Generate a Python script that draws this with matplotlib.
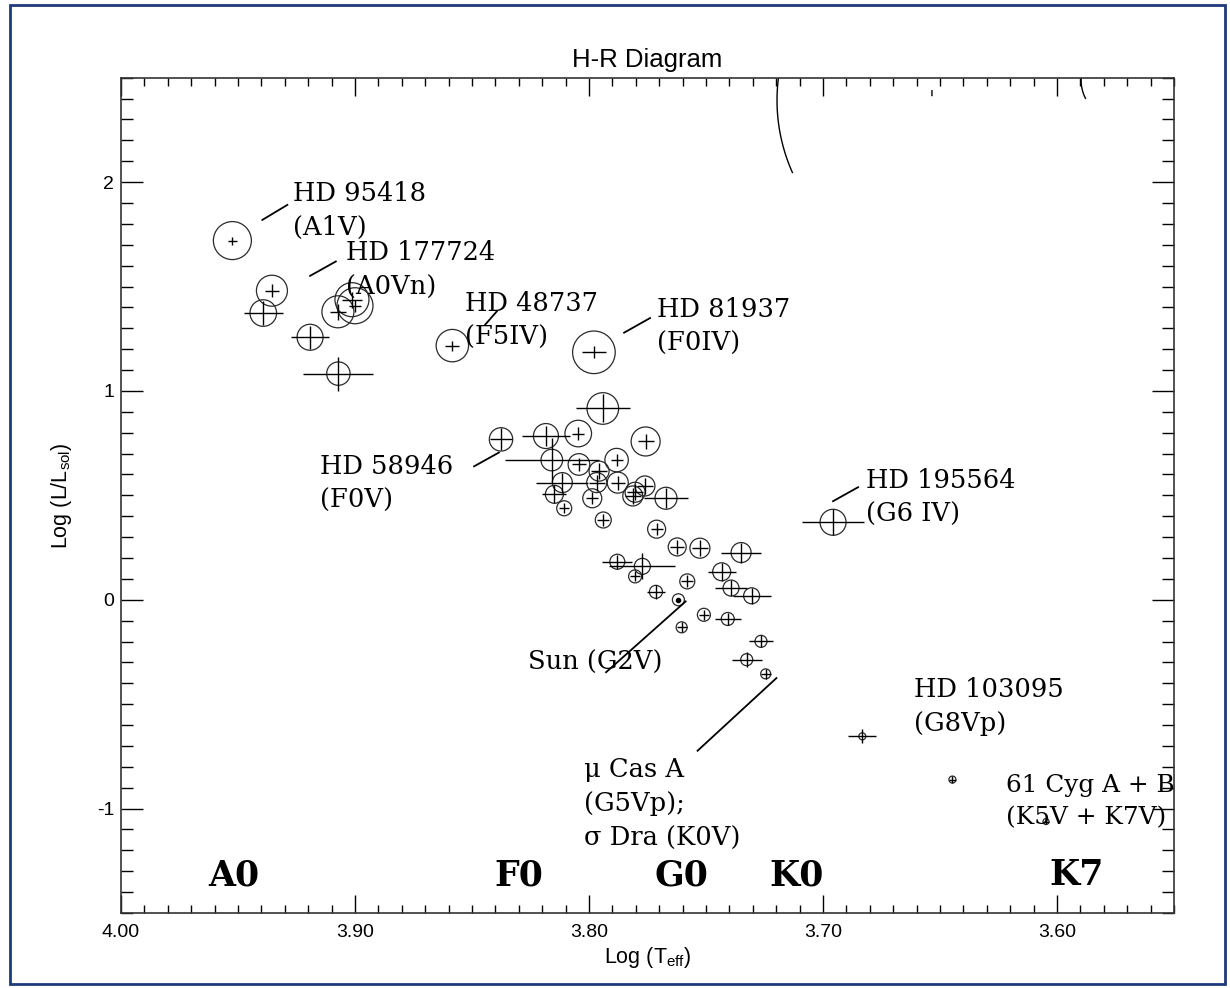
import numpy as np
import matplotlib.pyplot as plt
from matplotlib.patches import Rectangle
from matplotlib.ticker import MultipleLocator, FormatStrFormatter

plt.rcParams['axes.unicode_minus'] = False
plt.rcParams['mathtext.fontset'] = 'custom'
plt.rcParams['mathtext.rm'] = 'Liberation Sans'

# --- datos: log Teff, log L/Lsol, errores y radio del simbolo (px) ---
log_teff = [3.9524, 3.9355, 3.9392, 3.9073, 3.9013, 3.9000, 3.9192, 3.9071,
            3.8584, 3.7979, 3.7941, 3.8376, 3.8184, 3.8046, 3.7758,
            3.8159, 3.8043, 3.7957, 3.7882, 3.8114, 3.7967, 3.7877, 3.7761,
            3.7813, 3.7803, 3.7671, 3.8148, 3.8106, 3.7986, 3.7939, 3.7711,
            3.7623, 3.7526, 3.7350, 3.7879, 3.7772, 3.7803, 3.7580, 3.7433,
            3.7714, 3.7618, 3.7393, 3.7305, 3.7509, 3.7407, 3.7604, 3.7265,
            3.7326, 3.7245, 3.6957, 3.6832, 3.6447, 3.6047]
log_lum = [1.720, 1.480, 1.373, 1.379, 1.437, 1.408, 1.257, 1.083,
           1.217, 1.185, 0.916, 0.768, 0.784, 0.796, 0.758,
           0.669, 0.648, 0.616, 0.669, 0.561, 0.561, 0.561, 0.545,
           0.497, 0.515, 0.486, 0.505, 0.438, 0.486, 0.382, 0.338,
           0.253, 0.247, 0.226, 0.182, 0.160, 0.112, 0.088, 0.134,
           0.038, 0.000, 0.056, 0.019, -0.072, -0.092, -0.132, -0.199,
           -0.287, -0.355, 0.371, -0.654, -0.861, -1.062]
teff_err = [0.0019, 0.0029, 0.0083, 0.0034, 0.0043, 0.0026, 0.0080, 0.0150,
            0.0030, 0.0051, 0.0115, 0.0047, 0.0103, 0.0026, 0.0034,
            0.0200, 0.0030, 0.0034, 0.0026, 0.0111, 0.0034, 0.0030, 0.0034,
            0.0034, 0.0034, 0.0094, 0.0051, 0.0021, 0.0026, 0.0026, 0.0026,
            0.0030, 0.0034, 0.0085, 0.0064, 0.0141, 0.0021, 0.0026, 0.0060,
            0.0038, 0.0000, 0.0068, 0.0081, 0.0021, 0.0056, 0.0021, 0.0053,
            0.0064, 0.0021, 0.0132, 0.0060, 0.0015, 0.0013]
lum_err = [0.019, 0.032, 0.056, 0.038, 0.038, 0.029, 0.056, 0.081,
           0.024, 0.029, 0.067, 0.053, 0.048, 0.029, 0.038,
           0.105, 0.033, 0.038, 0.029, 0.048, 0.038, 0.033, 0.038,
           0.038, 0.038, 0.048, 0.043, 0.024, 0.029, 0.029, 0.029,
           0.033, 0.038, 0.048, 0.033, 0.062, 0.024, 0.029, 0.043,
           0.033, 0.000, 0.038, 0.038, 0.024, 0.029, 0.024, 0.029,
           0.036, 0.024, 0.062, 0.033, 0.017, 0.014]
sym_radius = [19, 15.5, 13.3, 16, 17, 18, 13, 11.7,
              16.2, 21.3, 15.8, 11.7, 12.5, 13.3, 14.5,
              10.8, 10.8, 10, 11.7, 10, 10, 10.5, 10,
              10, 10, 11, 9, 7.5, 9.5, 8, 9,
              9, 10, 10, 7.5, 8, 6.5, 7.5, 9,
              6.5, 6, 8, 8, 6.5, 6.5, 5.5, 6,
              6, 5, 13, 3.5, 3.5, 3]

sun_teff, sun_lum = 3.7618, 0.0

# etiquetas de estrellas
labels = ['HD 95418\n(A1V)', 'HD 177724\n(A0Vn)', 'HD 48737\n(F5IV)',
          'HD 81937\n(F0IV)', 'HD 58946\n(F0V)', 'HD 195564\n(G6 IV)',
          'Sun (G2V)', 'HD 103095\n(G8Vp)',
          '\u03bc Cas A\n(G5Vp);\n\u03c3 Dra (K0V)', '61 Cyg A + B\n(K5V + K7V)']
label_x = [3.9264, 3.9040, 3.8528, 3.7711, 3.9150, 3.6816, 3.8261, 3.6609, 3.8021, 3.6220]
label_y = [1.864, 1.580, 1.338, 1.310, 0.556, 0.489, -0.298, -0.511, -0.976, -0.967]
leader_x = [(3.9396, 3.9289), (3.9192, 3.9082), (3.8444, 3.8394), (3.7850, 3.7739),
            (3.8491, 3.8385), (3.6957, 3.6850), (3.7927, 3.7587), (3.7536, 3.7199)]
leader_y = [(1.819, 1.891), (1.551, 1.620), (1.317, 1.381), (1.279, 1.349),
            (0.639, 0.705), (0.472, 0.539), (-0.347, -0.008), (-0.723, -0.375)]

# clases espectrales
sp_class = ['A0', 'F0', 'G0', 'K0', 'K7']
sp_teff = [3.9517, 3.8299, 3.7603, 3.7115, 3.5915]
sp_y = -1.32

# arcos de simbolos grandes recortados arriba a la derecha
arc_center = [(3.6436, 2.392), (3.5726, 2.488), (3.6244, 2.426)]
arc_size = [(0.1521, 1.701), (0.0342, 0.382), (0.0581, 0.650)]
arc_theta = [(-24, 10), (-27, 10), (-2, 2)]

fig = plt.figure(figsize=(12.3, 9.88), dpi=100)
fig.patches.append(Rectangle((0.008, 0.004), 0.988, 0.991, transform=fig.transFigure,
                             fill=False, edgecolor='#1f3a78', linewidth=2))
ax = fig.add_axes([121 / 1230, 1 - 913 / 988, 1053 / 1230, 835.3 / 988])

# simbolos y barras de error
ax.errorbar(log_teff, log_lum, xerr=teff_err, yerr=lum_err, fmt='none',
            ecolor='black', elinewidth=1.0, capsize=0)
ax.scatter(log_teff, log_lum, s=[(1.44 * r) ** 2 for r in sym_radius],
           facecolors='none', edgecolors='#2a2a2a', linewidths=0.9)
ax.plot([sun_teff], [sun_lum], 'o', color='black', markersize=3)

for (cx, cy), (w, h), (t1, t2) in zip(arc_center, arc_size, arc_theta):
    t = np.radians(np.linspace(t1, t2, 60))
    ax.plot(cx + w / 2 * np.cos(t), cy + h / 2 * np.sin(t), color='black', lw=1.0)

for i, (t, x, y) in enumerate(zip(labels, label_x, label_y)):
    fs = 17.8 if i == len(labels) - 1 else 18.5
    ax.text(x, y, t, family='DejaVu Serif', fontsize=fs, ha='left', va='center',
            linespacing=1.47)
for xs, ys in zip(leader_x, leader_y):
    ax.plot(xs, ys, color='black', lw=1.3)

for s, x in zip(sp_class, sp_teff):
    ax.text(x, sp_y, s, family='DejaVu Serif', fontweight='bold', fontsize=25,
            ha='center', va='center')

ax.set_xlim(4.00, 3.55)
ax.set_ylim(-1.5, 2.5)
ax.xaxis.set_major_locator(MultipleLocator(0.1))
ax.xaxis.set_minor_locator(MultipleLocator(0.01))
ax.xaxis.set_major_formatter(FormatStrFormatter('%.2f'))
ax.yaxis.set_major_locator(MultipleLocator(1))
ax.yaxis.set_minor_locator(MultipleLocator(0.1))
ax.yaxis.set_major_formatter(FormatStrFormatter('%d'))
ax.tick_params(which='both', direction='in', top=True, right=True, width=1.0,
               labelsize=14)
ax.xaxis.set_tick_params(which='major', length=13, pad=8)
ax.xaxis.set_tick_params(which='minor', length=6)
ax.yaxis.set_tick_params(which='major', length=16, pad=5)
ax.yaxis.set_tick_params(which='minor', length=8.6)
for lab in ax.get_xticklabels() + ax.get_yticklabels():
    lab.set_family('Liberation Sans')
for sp in ax.spines.values():
    sp.set_linewidth(1.2)
    sp.set_color('#333333')

ax.set_title('H-R Diagram', family='Liberation Sans', fontsize=18.5, pad=8)
ax.set_xlabel('Log (T$_{\\rm eff}$)', family='Liberation Sans', fontsize=15.5, labelpad=3)
ax.set_ylabel('Log (L/L$_{\\rm sol}$)', family='Liberation Sans', fontsize=15.5, labelpad=16)

plt.savefig('out.png', dpi=100)
